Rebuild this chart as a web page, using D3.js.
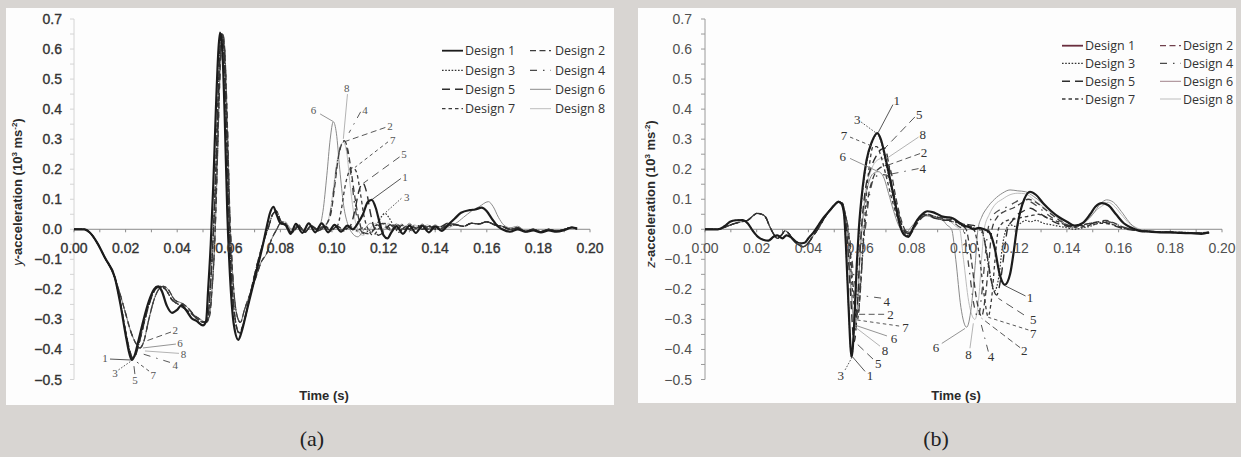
<!DOCTYPE html>
<html><head><meta charset="utf-8">
<script src="https://cdn.jsdelivr.net/npm/d3@7/dist/d3.min.js"></script>
<style>body{margin:0;background:#d8d5d2;}svg{display:block;}</style>
</head><body>
<script>
// ---------------- DATA ----------------
const designs = [1,2,3,4,5,6,7,8];
const xTicks = [0,0.02,0.04,0.06,0.08,0.10,0.12,0.14,0.16,0.18,0.20];
const yTicks = [0.7,0.6,0.5,0.4,0.3,0.2,0.1,0.0,-0.1,-0.2,-0.3,-0.4,-0.5];

// ---- panel (a): y-acceleration ----
const yEarly1 = [[0,0],[0.004,0],[0.006,-0.01],[0.009,-0.045],[0.012,-0.095],[0.0159,-0.163],[0.018,-0.25],[0.020,-0.35],[0.0215,-0.415],[0.0224,-0.435],[0.0235,-0.42],[0.025,-0.37],[0.027,-0.3],[0.029,-0.24],[0.031,-0.2],[0.0326,-0.19],[0.034,-0.205],[0.036,-0.255],[0.038,-0.278],[0.040,-0.268],[0.0417,-0.252],[0.0435,-0.27],[0.0455,-0.295],[0.0475,-0.305],[0.050,-0.32],[0.0512,-0.305]];
const yEarlyA = [[0,0],[0.004,0],[0.006,-0.01],[0.009,-0.045],[0.012,-0.095],[0.0159,-0.163],[0.018,-0.245],[0.020,-0.34],[0.0218,-0.41],[0.0228,-0.43],[0.024,-0.415],[0.0255,-0.37],[0.0275,-0.3],[0.0295,-0.24],[0.0315,-0.2],[0.0335,-0.19],[0.0355,-0.2],[0.038,-0.235],[0.0405,-0.25],[0.043,-0.265],[0.0455,-0.28],[0.048,-0.3],[0.0505,-0.31],[0.0518,-0.3]];
const yEarlyB = [[0,0],[0.004,0],[0.006,-0.01],[0.009,-0.045],[0.012,-0.095],[0.0159,-0.163],[0.018,-0.22],[0.020,-0.28],[0.022,-0.34],[0.024,-0.38],[0.0256,-0.395],[0.027,-0.375],[0.029,-0.3],[0.031,-0.235],[0.033,-0.198],[0.0346,-0.19],[0.0365,-0.2],[0.039,-0.235],[0.0415,-0.245],[0.044,-0.26],[0.0465,-0.285],[0.049,-0.3],[0.0512,-0.31],[0.0525,-0.29]];
const ySpike1 = [[0.052,-0.2],[0.053,-0.05],[0.054,0.15],[0.055,0.4],[0.056,0.6],[0.0566,0.655],[0.0574,0.61],[0.0584,0.38],[0.0594,0.06],[0.0605,-0.16],[0.062,-0.32],[0.0637,-0.368],[0.065,-0.34],[0.067,-0.27],[0.069,-0.2],[0.071,-0.13],[0.073,-0.06],[0.0745,0],[0.076,0.055],[0.0773,0.075],[0.0785,0.05],[0.080,0.02]];
const ySpikeA = [[0.0528,-0.2],[0.0538,-0.05],[0.0548,0.15],[0.0558,0.42],[0.0566,0.6],[0.0573,0.65],[0.058,0.61],[0.059,0.38],[0.060,0.06],[0.061,-0.15],[0.0625,-0.3],[0.064,-0.345],[0.0655,-0.32],[0.0675,-0.25],[0.0695,-0.17],[0.0715,-0.1],[0.0735,-0.04],[0.0755,0.01],[0.077,0.05],[0.0785,0.06],[0.080,0.03]];
const ySpikeB = [[0.0535,-0.2],[0.0545,-0.05],[0.0553,0.15],[0.0562,0.42],[0.057,0.6],[0.0577,0.648],[0.0584,0.6],[0.0594,0.36],[0.0604,0.05],[0.0615,-0.15],[0.063,-0.28],[0.0645,-0.31],[0.066,-0.27],[0.068,-0.22],[0.0705,-0.16],[0.0725,-0.11],[0.0747,-0.08],[0.0765,-0.035],[0.0786,0],[0.080,0.02]];
const yMid1 = [[0.082,0.015],[0.084,-0.015],[0.086,0.018],[0.0885,-0.012],[0.091,0.02],[0.0935,-0.01],[0.096,0.02],[0.0985,-0.01],[0.101,0.015],[0.1035,-0.008],[0.106,0.012],[0.108,0.0],[0.110,0.02],[0.112,0.05],[0.1138,0.09],[0.1154,0.098],[0.117,0.07],[0.1185,0.02],[0.120,-0.02],[0.1215,-0.03],[0.123,-0.01],[0.125,0.01],[0.1275,-0.015],[0.13,0.012],[0.1325,-0.012],[0.135,0.012],[0.1375,-0.01],[0.140,0.01],[0.1425,-0.005],[0.145,0.015]];
const yMid2 = [[0.082,0.012],[0.0845,-0.008],[0.087,0.01],[0.0895,-0.01],[0.092,0.012],[0.0945,-0.005],[0.097,0.008],[0.0995,0.05],[0.101,0.14],[0.1025,0.24],[0.1038,0.285],[0.1047,0.295],[0.106,0.27],[0.1075,0.19],[0.109,0.1],[0.1105,0.03],[0.112,-0.01],[0.1145,-0.015],[0.117,0.005],[0.1195,0.02],[0.122,0.0],[0.1245,0.015],[0.127,0.0],[0.1295,0.015],[0.132,0.0],[0.1345,0.012],[0.137,0.0],[0.1395,0.01],[0.142,0.0],[0.145,0.02]];
const yMid3 = [[0.082,0.02],[0.0845,-0.01],[0.087,0.015],[0.0895,-0.008],[0.092,0.012],[0.0945,-0.005],[0.097,0.01],[0.0995,-0.005],[0.102,0.01],[0.1045,-0.005],[0.107,0.01],[0.1095,-0.005],[0.112,0.005],[0.1145,-0.01],[0.117,0.01],[0.119,0.04],[0.1205,0.053],[0.122,0.04],[0.124,0.01],[0.126,-0.01],[0.1285,0.01],[0.131,-0.005],[0.1335,0.012],[0.136,0.0],[0.1385,0.01],[0.141,0.0],[0.1435,0.008],[0.145,0.01]];
const yMid4 = [[0.082,0.01],[0.0845,-0.01],[0.087,0.012],[0.0895,-0.008],[0.092,0.01],[0.0945,0.0],[0.097,0.01],[0.099,0.04],[0.1005,0.12],[0.102,0.22],[0.1035,0.28],[0.1045,0.292],[0.106,0.26],[0.1075,0.17],[0.109,0.07],[0.1105,0.01],[0.1125,-0.015],[0.115,0.0],[0.1175,0.015],[0.120,0.0],[0.1225,0.015],[0.125,0.0],[0.1275,0.012],[0.130,0.0],[0.1325,0.015],[0.135,0.0],[0.1375,0.01],[0.140,0.0],[0.1425,0.008],[0.145,0.012]];
const yMid5 = [[0.082,0.01],[0.0845,-0.012],[0.087,0.01],[0.0895,-0.01],[0.092,0.012],[0.0945,-0.005],[0.097,0.01],[0.0995,-0.005],[0.102,0.01],[0.1045,0.0],[0.107,0.01],[0.1088,0.06],[0.1105,0.13],[0.112,0.153],[0.1135,0.12],[0.115,0.05],[0.1165,0.0],[0.118,-0.02],[0.120,-0.01],[0.1225,0.015],[0.125,0.0],[0.1275,0.015],[0.130,0.0],[0.1325,0.012],[0.135,0.0],[0.1375,0.012],[0.140,0.0],[0.1425,0.01],[0.145,0.02]];
const yMid6 = [[0.082,0.02],[0.0845,0.0],[0.087,0.015],[0.0895,-0.01],[0.092,0.01],[0.0946,0.0],[0.0965,0.06],[0.098,0.18],[0.0993,0.3],[0.1005,0.358],[0.1017,0.32],[0.103,0.2],[0.1045,0.08],[0.106,0.02],[0.1076,-0.01],[0.110,-0.025],[0.1125,0.0],[0.115,0.02],[0.1175,0.0],[0.120,0.02],[0.1225,-0.005],[0.125,0.018],[0.1275,0.0],[0.130,0.02],[0.1325,0.0],[0.135,0.018],[0.1375,0.0],[0.140,0.015],[0.1425,0.0],[0.145,0.01]];
const yMid7 = [[0.082,0.015],[0.0845,-0.01],[0.087,0.012],[0.0895,-0.008],[0.092,0.012],[0.0945,0.0],[0.097,0.012],[0.0995,0.0],[0.102,0.01],[0.1035,0.06],[0.105,0.14],[0.1065,0.19],[0.108,0.205],[0.1095,0.19],[0.111,0.12],[0.1125,0.04],[0.114,0.0],[0.116,-0.02],[0.118,0.0],[0.1205,0.02],[0.123,0.0],[0.1255,0.015],[0.128,0.0],[0.1305,0.015],[0.133,0.0],[0.1355,0.012],[0.138,0.0],[0.1405,0.01],[0.143,0.005],[0.145,0.015]];
const yMid8 = [[0.082,0.025],[0.084,0.0],[0.0865,0.015],[0.089,-0.008],[0.0915,0.012],[0.094,0.0],[0.0965,0.01],[0.0985,0.03],[0.100,0.1],[0.1015,0.2],[0.103,0.27],[0.1044,0.29],[0.1058,0.25],[0.107,0.15],[0.1085,0.05],[0.110,0.0],[0.112,-0.02],[0.1145,0.0],[0.117,0.02],[0.1195,0.0],[0.122,0.02],[0.1245,0.0],[0.127,0.018],[0.1295,0.0],[0.132,0.015],[0.1345,0.0],[0.137,0.015],[0.1395,0.0],[0.142,0.01],[0.145,0.005]];
const yLate1 = [[0.1475,0.035],[0.150,0.055],[0.1535,0.064],[0.1555,0.066],[0.158,0.072],[0.160,0.06],[0.162,0.035],[0.164,0.012],[0.166,0.0],[0.169,-0.008],[0.172,0.0],[0.175,-0.008],[0.178,-0.004],[0.181,-0.01],[0.184,-0.004],[0.187,-0.008],[0.190,-0.003],[0.193,0.006],[0.195,0.003]];
const yLate6 = [[0.148,0.02],[0.151,0.04],[0.154,0.06],[0.157,0.075],[0.1606,0.092],[0.1625,0.075],[0.1645,0.04],[0.1665,0.015],[0.169,0.005],[0.172,0.01],[0.175,-0.005],[0.178,0.0],[0.181,-0.008],[0.184,0.0],[0.187,-0.006],[0.190,0.0],[0.193,0.008],[0.195,0.0]];
const yLateOther = [[0.148,0.015],[0.151,0.01],[0.154,0.02],[0.157,0.018],[0.160,0.025],[0.163,0.015],[0.166,0.01],[0.169,0.0],[0.172,0.005],[0.175,-0.008],[0.178,0.0],[0.181,-0.008],[0.184,0.0],[0.187,-0.006],[0.190,0.0],[0.193,0.006],[0.195,0.0]];

// ---- panel (b): z-acceleration ----
const zEarly1 = [[0,0],[0.005,0],[0.0075,0.01],[0.0097,0.025],[0.012,0.03],[0.0145,0.031],[0.0165,0.02],[0.0185,-0.005],[0.0205,-0.025],[0.0225,-0.035],[0.0245,-0.038],[0.0265,-0.025],[0.028,-0.02],[0.030,-0.03],[0.0315,-0.02],[0.033,-0.025],[0.035,-0.04],[0.0367,-0.047],[0.0385,-0.045],[0.040,-0.03],[0.042,-0.01],[0.044,0.015],[0.046,0.04],[0.048,0.06],[0.050,0.08],[0.0516,0.092],[0.0528,0.085],[0.0538,0.05]];
const zEarlyB = [[0,0],[0.005,0],[0.008,0.008],[0.011,0.018],[0.014,0.025],[0.0165,0.03],[0.0186,0.045],[0.020,0.053],[0.022,0.05],[0.0235,0.04],[0.025,0.01],[0.0265,-0.015],[0.028,-0.03],[0.0295,-0.02],[0.031,-0.005],[0.0325,-0.015],[0.034,-0.035],[0.036,-0.05],[0.038,-0.058],[0.040,-0.045],[0.042,-0.02],[0.044,0.005],[0.046,0.035],[0.048,0.06],[0.050,0.08],[0.0516,0.09],[0.053,0.088],[0.054,0.06]];
const zSpike1 = [[0.0545,-0.05],[0.0555,-0.25],[0.0567,-0.425],[0.0578,-0.3],[0.0587,-0.12],[0.0595,0.0],[0.061,0.14],[0.0625,0.23],[0.0645,0.29],[0.0667,0.32],[0.068,0.3],[0.070,0.23],[0.072,0.15],[0.074,0.07],[0.0755,0.01],[0.077,-0.018],[0.0787,-0.025],[0.080,-0.005],[0.082,0.03],[0.084,0.05],[0.086,0.06],[0.088,0.057]];
const zSpike2 = [[0.0558,-0.03],[0.0572,-0.18],[0.0592,-0.284],[0.0603,-0.18],[0.0612,-0.05],[0.0617,0.0],[0.063,0.1],[0.065,0.17],[0.067,0.2],[0.0709,0.214],[0.072,0.19],[0.0735,0.12],[0.075,0.06],[0.0765,0.015],[0.078,-0.01],[0.0795,-0.015],[0.081,0.005],[0.083,0.03],[0.085,0.045],[0.087,0.048],[0.088,0.045]];
const zSpike3 = [[0.0545,-0.05],[0.0555,-0.25],[0.0567,-0.425],[0.0578,-0.31],[0.0588,-0.13],[0.0597,0.0],[0.061,0.13],[0.0625,0.22],[0.0645,0.285],[0.0667,0.318],[0.068,0.295],[0.070,0.22],[0.072,0.14],[0.074,0.06],[0.0758,0.005],[0.0775,-0.02],[0.079,-0.02],[0.0805,0.0],[0.0825,0.03],[0.0845,0.045],[0.0865,0.05],[0.088,0.045]];
const zSpike4 = [[0.056,-0.03],[0.0575,-0.15],[0.0592,-0.22],[0.0605,-0.14],[0.0614,-0.04],[0.062,0.0],[0.0632,0.09],[0.0645,0.15],[0.066,0.175],[0.068,0.182],[0.0703,0.18],[0.072,0.15],[0.073,0.12],[0.0745,0.07],[0.076,0.02],[0.0775,-0.005],[0.079,-0.01],[0.0805,0.005],[0.0825,0.03],[0.0845,0.045],[0.0865,0.048],[0.088,0.045]];
const zSpike5 = [[0.055,-0.03],[0.0562,-0.2],[0.0577,-0.374],[0.059,-0.25],[0.0598,-0.1],[0.0605,0.0],[0.062,0.13],[0.064,0.2],[0.066,0.24],[0.068,0.265],[0.0696,0.27],[0.071,0.22],[0.0725,0.13],[0.074,0.07],[0.0758,0.02],[0.0775,-0.01],[0.079,-0.015],[0.0805,0.005],[0.0825,0.035],[0.0845,0.05],[0.0865,0.05],[0.088,0.04]];
const zSpike6 = [[0.0552,-0.03],[0.0565,-0.2],[0.058,-0.32],[0.0592,-0.22],[0.06,-0.08],[0.0607,0.0],[0.062,0.1],[0.0635,0.16],[0.065,0.185],[0.067,0.192],[0.069,0.175],[0.071,0.12],[0.073,0.06],[0.0748,0.015],[0.0765,-0.005],[0.078,-0.01],[0.0795,0.005],[0.0815,0.025],[0.0835,0.04],[0.0855,0.045],[0.088,0.04]];
const zSpike7 = [[0.0556,-0.03],[0.057,-0.2],[0.059,-0.30],[0.0602,-0.18],[0.061,-0.06],[0.0615,0.0],[0.0625,0.12],[0.0637,0.22],[0.065,0.275],[0.0665,0.275],[0.068,0.245],[0.070,0.18],[0.072,0.11],[0.074,0.05],[0.0758,0.01],[0.0775,-0.015],[0.079,-0.02],[0.0805,0.0],[0.0825,0.03],[0.0845,0.045],[0.0865,0.048],[0.088,0.042]];
const zSpike8 = [[0.0552,-0.03],[0.0565,-0.2],[0.058,-0.325],[0.0592,-0.23],[0.06,-0.09],[0.0607,0.0],[0.062,0.12],[0.064,0.19],[0.066,0.225],[0.0685,0.236],[0.0703,0.225],[0.072,0.15],[0.0735,0.08],[0.075,0.025],[0.0768,-0.005],[0.0785,-0.015],[0.080,0.0],[0.082,0.025],[0.084,0.04],[0.086,0.045],[0.088,0.04]];
const zMid1 = [[0.090,0.05],[0.092,0.042],[0.094,0.04],[0.096,0.036],[0.098,0.025],[0.100,0.012],[0.102,0.008],[0.104,0.0],[0.106,0.005],[0.108,0.0],[0.110,-0.01],[0.112,-0.06],[0.114,-0.15],[0.116,-0.185],[0.118,-0.15],[0.1195,-0.07],[0.1206,0.0],[0.122,0.06],[0.1235,0.1],[0.1257,0.125],[0.128,0.115],[0.131,0.085],[0.134,0.06],[0.137,0.04],[0.140,0.025],[0.143,0.012],[0.146,0.02],[0.149,0.05],[0.151,0.075],[0.1535,0.087],[0.156,0.08],[0.159,0.05],[0.162,0.02],[0.165,0.005],[0.168,-0.005],[0.172,-0.008],[0.176,-0.01],[0.180,-0.01],[0.184,-0.012],[0.188,-0.013],[0.192,-0.015],[0.195,-0.01]];
const zMid2 = [[0.090,0.04],[0.093,0.035],[0.096,0.03],[0.099,0.015],[0.101,0.0],[0.103,-0.1],[0.105,-0.23],[0.107,-0.29],[0.1085,-0.22],[0.110,-0.09],[0.111,0.0],[0.113,0.04],[0.116,0.06],[0.119,0.07],[0.122,0.085],[0.125,0.1],[0.128,0.09],[0.131,0.07],[0.134,0.05],[0.137,0.03],[0.140,0.015],[0.143,0.01],[0.146,0.015],[0.149,0.02],[0.152,0.025],[0.155,0.03],[0.158,0.022],[0.161,0.01],[0.165,0.0],[0.17,-0.005],[0.175,-0.01],[0.18,-0.01],[0.185,-0.012],[0.19,-0.013],[0.195,-0.012]];
const zMid3 = [[0.090,0.04],[0.092,0.03],[0.094,0.03],[0.096,0.025],[0.098,0.02],[0.100,0.01],[0.102,0.012],[0.104,0.005],[0.106,0.0],[0.108,-0.03],[0.110,-0.14],[0.112,-0.205],[0.1138,-0.15],[0.115,-0.06],[0.1165,0.0],[0.118,0.015],[0.120,0.01],[0.122,0.02],[0.124,0.03],[0.126,0.025],[0.128,0.03],[0.131,0.02],[0.134,0.015],[0.137,0.01],[0.140,0.005],[0.143,0.0],[0.146,0.005],[0.149,0.01],[0.152,0.02],[0.155,0.025],[0.158,0.015],[0.161,0.005],[0.165,0.0],[0.17,-0.005],[0.175,-0.008],[0.18,-0.01],[0.185,-0.01],[0.19,-0.012],[0.195,-0.01]];
const zMid4 = [[0.090,0.04],[0.093,0.035],[0.096,0.025],[0.098,0.01],[0.100,0.0],[0.102,-0.12],[0.104,-0.25],[0.1057,-0.293],[0.107,-0.22],[0.1085,-0.08],[0.1095,0.0],[0.111,0.04],[0.114,0.065],[0.117,0.075],[0.120,0.09],[0.1225,0.1],[0.125,0.095],[0.128,0.08],[0.131,0.06],[0.134,0.04],[0.137,0.025],[0.140,0.015],[0.143,0.01],[0.146,0.015],[0.149,0.02],[0.152,0.025],[0.155,0.028],[0.158,0.02],[0.161,0.01],[0.165,0.0],[0.17,-0.005],[0.175,-0.008],[0.18,-0.01],[0.185,-0.012],[0.19,-0.013],[0.195,-0.012]];
const zMid5 = [[0.090,0.035],[0.093,0.03],[0.096,0.03],[0.099,0.02],[0.102,0.015],[0.105,0.01],[0.107,0.0],[0.109,-0.08],[0.111,-0.18],[0.1128,-0.219],[0.1145,-0.16],[0.116,-0.06],[0.117,0.0],[0.119,0.03],[0.121,0.05],[0.123,0.06],[0.126,0.07],[0.129,0.055],[0.132,0.04],[0.135,0.025],[0.138,0.015],[0.141,0.01],[0.144,0.015],[0.147,0.01],[0.150,0.02],[0.153,0.025],[0.156,0.02],[0.159,0.01],[0.163,0.0],[0.168,-0.005],[0.173,-0.008],[0.178,-0.01],[0.183,-0.01],[0.188,-0.012],[0.195,-0.012]];
const zMid6 = [[0.090,0.035],[0.092,0.03],[0.0935,0.015],[0.0954,0.0],[0.097,-0.1],[0.099,-0.26],[0.1012,-0.326],[0.103,-0.26],[0.1045,-0.12],[0.1056,0.0],[0.107,0.04],[0.109,0.07],[0.112,0.1],[0.115,0.12],[0.118,0.131],[0.121,0.128],[0.124,0.125],[0.127,0.11],[0.130,0.09],[0.133,0.065],[0.136,0.045],[0.139,0.02],[0.141,0.005],[0.144,0.01],[0.147,0.025],[0.150,0.05],[0.153,0.085],[0.1554,0.098],[0.158,0.09],[0.161,0.06],[0.164,0.025],[0.1665,0.005],[0.17,-0.005],[0.175,-0.01],[0.18,-0.012],[0.185,-0.012],[0.19,-0.015],[0.195,-0.012]];
const zMid7 = [[0.090,0.035],[0.093,0.03],[0.096,0.025],[0.099,0.02],[0.102,0.01],[0.104,0.0],[0.106,-0.08],[0.108,-0.22],[0.1095,-0.29],[0.111,-0.22],[0.1122,-0.1],[0.1135,0.0],[0.115,0.02],[0.117,0.03],[0.120,0.035],[0.123,0.04],[0.126,0.045],[0.129,0.05],[0.132,0.04],[0.135,0.03],[0.138,0.02],[0.141,0.01],[0.144,0.005],[0.147,0.01],[0.150,0.015],[0.153,0.02],[0.156,0.018],[0.16,0.01],[0.164,0.0],[0.17,-0.005],[0.175,-0.008],[0.18,-0.01],[0.185,-0.012],[0.19,-0.012],[0.195,-0.01]];
const zMid8 = [[0.090,0.04],[0.093,0.035],[0.095,0.025],[0.097,0.01],[0.0985,0.0],[0.100,-0.1],[0.102,-0.24],[0.1044,-0.30],[0.106,-0.22],[0.107,-0.1],[0.108,0.0],[0.110,0.05],[0.112,0.08],[0.115,0.1],[0.118,0.115],[0.121,0.12],[0.124,0.118],[0.127,0.1],[0.130,0.08],[0.133,0.06],[0.136,0.04],[0.139,0.02],[0.142,0.01],[0.145,0.015],[0.148,0.03],[0.151,0.06],[0.154,0.08],[0.156,0.09],[0.158,0.08],[0.161,0.05],[0.164,0.02],[0.167,0.005],[0.17,-0.005],[0.175,-0.008],[0.18,-0.01],[0.185,-0.012],[0.19,-0.012],[0.195,-0.01]];

// series assembled from the named segments above
const ySeries = {
  1: [...yEarly1, ...ySpike1, ...yMid1, ...yLate1],
  2: [...yEarlyB, ...ySpikeB, ...yMid2, ...yLateOther],
  3: [...yEarlyA, ...ySpikeA, ...yMid3, ...yLateOther],
  4: [...yEarlyB, ...ySpikeB, ...yMid4, ...yLateOther],
  5: [...yEarlyA, ...ySpikeA, ...yMid5, ...yLateOther],
  6: [...yEarlyB, ...ySpikeB, ...yMid6, ...yLate6],
  7: [...yEarlyA, ...ySpikeA, ...yMid7, ...yLateOther],
  8: [...yEarlyB, ...ySpikeB, ...yMid8, ...yLateOther]
};
const zSeries = {
  1: [...zEarly1, ...zSpike1, ...zMid1],
  2: [...zEarlyB, ...zSpike2, ...zMid2],
  3: [...zEarly1, ...zSpike3, ...zMid3],
  4: [...zEarlyB, ...zSpike4, ...zMid4],
  5: [...zEarlyB, ...zSpike5, ...zMid5],
  6: [...zEarlyB, ...zSpike6, ...zMid6],
  7: [...zEarlyB, ...zSpike7, ...zMid7],
  8: [...zEarlyB, ...zSpike8, ...zMid8]
};

// annotations: [design, labelT, labelV, lineT1, lineV1, lineT2, lineV2]
const yNotes = [
  [1,0.0120,-0.429,0.01395,-0.432,0.0219,-0.435],
  [3,0.0159,-0.477,0.01725,-0.468,0.0219,-0.440],
  [5,0.0236,-0.502,0.0236,-0.482,0.0231,-0.445],
  [7,0.0307,-0.485,0.0291,-0.472,0.0244,-0.442],
  [4,0.0392,-0.452,0.0372,-0.443,0.0267,-0.415],
  [8,0.0424,-0.415,0.0407,-0.413,0.0275,-0.405],
  [6,0.0411,-0.378,0.0395,-0.382,0.0267,-0.395],
  [2,0.0392,-0.335,0.0376,-0.342,0.0279,-0.372],
  [8,0.1057,0.469,0.1060,0.450,0.1044,0.301],
  [6,0.0928,0.397,0.0954,0.384,0.1004,0.359],
  [4,0.1128,0.397,0.1111,0.391,0.1066,0.321],
  [2,0.1225,0.344,0.1207,0.339,0.1050,0.292],
  [7,0.1235,0.297,0.1217,0.291,0.1089,0.206],
  [5,0.1279,0.251,0.1262,0.241,0.1121,0.153],
  [1,0.1283,0.175,0.1267,0.169,0.1155,0.099],
  [3,0.1290,0.109,0.1269,0.103,0.1205,0.054]
];
const zNotes = [
  [1,0.0742,0.430,0.0727,0.415,0.0670,0.322],
  [3,0.0589,0.366,0.0604,0.357,0.0663,0.320],
  [7,0.0538,0.311,0.0561,0.307,0.0651,0.275],
  [6,0.0533,0.242,0.0561,0.236,0.0670,0.192],
  [5,0.0829,0.381,0.0812,0.374,0.0696,0.270],
  [8,0.0842,0.314,0.0826,0.307,0.0703,0.236],
  [2,0.0847,0.255,0.0832,0.252,0.0709,0.214],
  [4,0.0842,0.201,0.0826,0.202,0.0703,0.181],
  [4,0.0703,-0.239,0.0681,-0.229,0.0591,-0.219],
  [2,0.0718,-0.283,0.0693,-0.283,0.0591,-0.283],
  [7,0.0776,-0.326,0.0751,-0.322,0.0589,-0.302],
  [6,0.0731,-0.363,0.0704,-0.355,0.0580,-0.319],
  [8,0.0696,-0.402,0.0677,-0.389,0.0580,-0.325],
  [5,0.0670,-0.446,0.0650,-0.432,0.0580,-0.375],
  [1,0.0638,-0.488,0.0619,-0.473,0.0570,-0.424],
  [3,0.0525,-0.488,0.0542,-0.468,0.0570,-0.424],
  [6,0.0894,-0.393,0.0916,-0.380,0.1006,-0.330],
  [8,0.1019,-0.416,0.1025,-0.396,0.1038,-0.313],
  [4,0.1106,-0.424,0.1096,-0.407,0.1064,-0.302],
  [2,0.1235,-0.404,0.1219,-0.394,0.1070,-0.296],
  [7,0.1270,-0.346,0.1251,-0.335,0.1096,-0.293],
  [5,0.1270,-0.300,0.1234,-0.285,0.1135,-0.230],
  [1,0.1257,-0.228,0.1240,-0.222,0.1161,-0.188]
];

// ---------------- STYLES ----------------
const style = {
  1:{c:"#1c1c1c", w:2.2, d:null},
  2:{c:"#3c3c3c", w:1.3, d:"6,3.5"},
  3:{c:"#333",    w:1.2, d:"1.6,1.6"},
  4:{c:"#4a4a4a", w:1.3, d:"7,6,1.5,6"},
  5:{c:"#2e2e2e", w:1.4, d:"8,5"},
  6:{c:"#8a8a8a", w:1.0, d:null},
  7:{c:"#3a3a3a", w:1.3, d:"3.5,3"},
  8:{c:"#bdbdbd", w:1.0, d:null}
};

// ---------------- DRAW ----------------
const W = 1241, H = 457;
const svg = d3.select("body").append("svg").attr("width", W).attr("height", H);
svg.append("rect").attr("width", W).attr("height", H).attr("fill", "#d8d5d2");

const panels = [
  { box:[6,8,608,397], xr:[74,590], yr:[379.5,19], series:ySeries, notes:yNotes, noteSize:11,
    tickColor:"#333", tickStroke:0.35, yLabX:62, yAxisColor:"#d4d4d4", axisColor:"#8a8a8a",
    title:["y","-acceleration (10","3"," ms","-2",")"], titleX:22, titleY:192,
    timeX:324, cap:"(a)", capX:312,
    leg:{x1:[442,530], tx:[465,555], rows:[50.7,70.3,89.3,108.7]}, legTint:false },
  { box:[638,8,598,395], xr:[705,1222], yr:[379.5,19], series:zSeries, notes:zNotes, noteSize:13,
    tickColor:"#505050", tickStroke:0, yLabX:692, yAxisColor:"#9a9a9a", axisColor:"#8a8a8a",
    title:["z","-acceleration (10","3"," ms","-2",")"], titleX:655, titleY:194,
    timeX:956, cap:"(b)", capX:936,
    leg:{x1:[1062,1160], tx:[1085,1183], rows:[45.7,63.3,81.3,99]}, legTint:true }
];

panels.forEach(p => {
  const g = svg.append("g");
  g.append("rect").attr("x",p.box[0]).attr("y",p.box[1]).attr("width",p.box[2]).attr("height",p.box[3]).attr("fill","#fdfdfd");
  const x = d3.scaleLinear().domain([0,0.2]).range(p.xr);
  const y = d3.scaleLinear().domain([-0.5,0.7]).range(p.yr);

  // y axis line + ticks
  g.append("line").attr("x1",x(0)).attr("x2",x(0)).attr("y1",y(0.7)).attr("y2",y(-0.5))
    .attr("stroke",p.yAxisColor).attr("stroke-width",1);
  const yMinor = d3.range(-0.5,0.7001,0.05);
  g.selectAll(".yt").data(yMinor).enter().append("line")
    .attr("x1",x(0)-4).attr("x2",x(0)).attr("y1",d=>y(d)).attr("y2",d=>y(d))
    .attr("stroke",p.yAxisColor).attr("stroke-width",1);
  // x axis line + ticks
  g.append("line").attr("x1",x(0)).attr("x2",x(0.2)).attr("y1",y(0)).attr("y2",y(0))
    .attr("stroke",p.axisColor).attr("stroke-width",1);
  const xMinor = d3.range(0,0.2001,0.01);
  g.selectAll(".xt").data(xMinor).enter().append("line")
    .attr("x1",d=>x(d)).attr("x2",d=>x(d)).attr("y1",y(0)).attr("y2",y(0)+3)
    .attr("stroke",p.axisColor).attr("stroke-width",1);

  // curves
  const line = d3.line().x(d=>x(d[0])).y(d=>y(d[1])).curve(d3.curveMonotoneX);
  [8,6,4,2,7,5,3,1].forEach(k => {
    const s = style[k];
    g.append("path").datum(p.series[k]).attr("d",line).attr("fill","none")
      .attr("stroke",s.c).attr("stroke-width",s.w).attr("stroke-dasharray",s.d)
      .attr("stroke-linejoin","round");
  });

  // tick labels
  const fmtY = d3.format(".1f"), fmtX = d3.format(".2f");
  g.selectAll(".yl").data(yTicks).enter().append("text")
    .attr("x",p.yLabX).attr("y",d=>y(d)).attr("dominant-baseline","central")
    .attr("text-anchor","end").attr("font-family","Liberation Sans, Arial, sans-serif")
    .attr("font-size",14).attr("fill",p.tickColor).attr("stroke",p.tickColor).attr("stroke-width",p.tickStroke)
    .text(d=>fmtY(d));
  g.selectAll(".xl").data(xTicks).enter().append("text")
    .attr("x",d=>x(d)).attr("y",y(0)+19).attr("dominant-baseline","central")
    .attr("text-anchor","middle").attr("font-family","Liberation Sans, Arial, sans-serif")
    .attr("font-size",14).attr("fill",p.tickColor).attr("stroke",p.tickColor).attr("stroke-width",p.tickStroke)
    .text(d=>fmtX(d));

  // annotations
  p.notes.forEach(n => {
    const s = style[n[0]];
    g.append("line").attr("x1",x(n[3])).attr("y1",y(n[4])).attr("x2",x(n[5])).attr("y2",y(n[6]))
      .attr("stroke", n[0]===8 ? "#aaa" : (n[0]===6 ? "#888" : "#444"))
      .attr("stroke-width",0.9).attr("stroke-dasharray",s.d);
    g.append("text").attr("x",x(n[1])).attr("y",y(n[2])).attr("text-anchor","middle")
      .attr("dominant-baseline","central").attr("font-family","Liberation Serif, Times New Roman, serif")
      .attr("font-size",p.noteSize).attr("fill",p.noteSize>12?"#333":"#555").text(n[0]);
  });

  // axis titles
  const t = g.append("text").attr("transform",`translate(${p.titleX},${p.titleY}) rotate(-90)`)
    .attr("text-anchor","middle").attr("font-family","Liberation Sans, Arial, sans-serif")
    .attr("font-size",13).attr("font-weight","bold").attr("fill","#2a2a2a");
  t.append("tspan").attr("font-style","italic").attr("font-weight","normal").text(p.title[0]);
  t.append("tspan").text(p.title[1]);
  t.append("tspan").attr("dy",-5).attr("font-size",8).text(p.title[2]);
  t.append("tspan").attr("dy",5).text(p.title[3]);
  t.append("tspan").attr("dy",-5).attr("font-size",8).text(p.title[4]);
  t.append("tspan").attr("dy",5).text(p.title[5]);

  g.append("text").attr("x",p.timeX).attr("y",395).attr("text-anchor","middle").attr("dominant-baseline","central")
    .attr("font-family","Liberation Sans, Arial, sans-serif").attr("font-size",13).attr("font-weight","bold")
    .attr("fill","#2a2a2a").text("Time (s)");

  // caption
  svg.append("text").attr("x",p.capX).attr("y",438).attr("text-anchor","middle").attr("dominant-baseline","central")
    .attr("font-family","Liberation Serif, Times New Roman, serif").attr("font-size",22).attr("fill","#222").text(p.cap);

  // legend
  designs.forEach((k,i) => {
    const col = i % 2, row = Math.floor(i/2);
    const s = style[k];
    const yy = p.leg.rows[row];
    let c = s.c;
    if (p.legTint && k===1) c = "#6a2e3e";
    if (p.legTint && k===2) c = "#70404c";
    if (p.legTint && k===6) c = "#a0828a";
    g.append("line").attr("x1",p.leg.x1[col]).attr("x2",p.leg.x1[col]+21).attr("y1",yy).attr("y2",yy)
      .attr("stroke",c).attr("stroke-width",Math.min(s.w,1.8)).attr("stroke-dasharray",s.d);
    g.append("text").attr("x",p.leg.tx[col]).attr("y",yy).attr("dominant-baseline","central")
      .attr("font-family","Open Sans, Noto Sans, sans-serif").attr("font-size",12.5).attr("fill","#333")
      .text("Design " + k);
  });
});
</script>
</body></html>
